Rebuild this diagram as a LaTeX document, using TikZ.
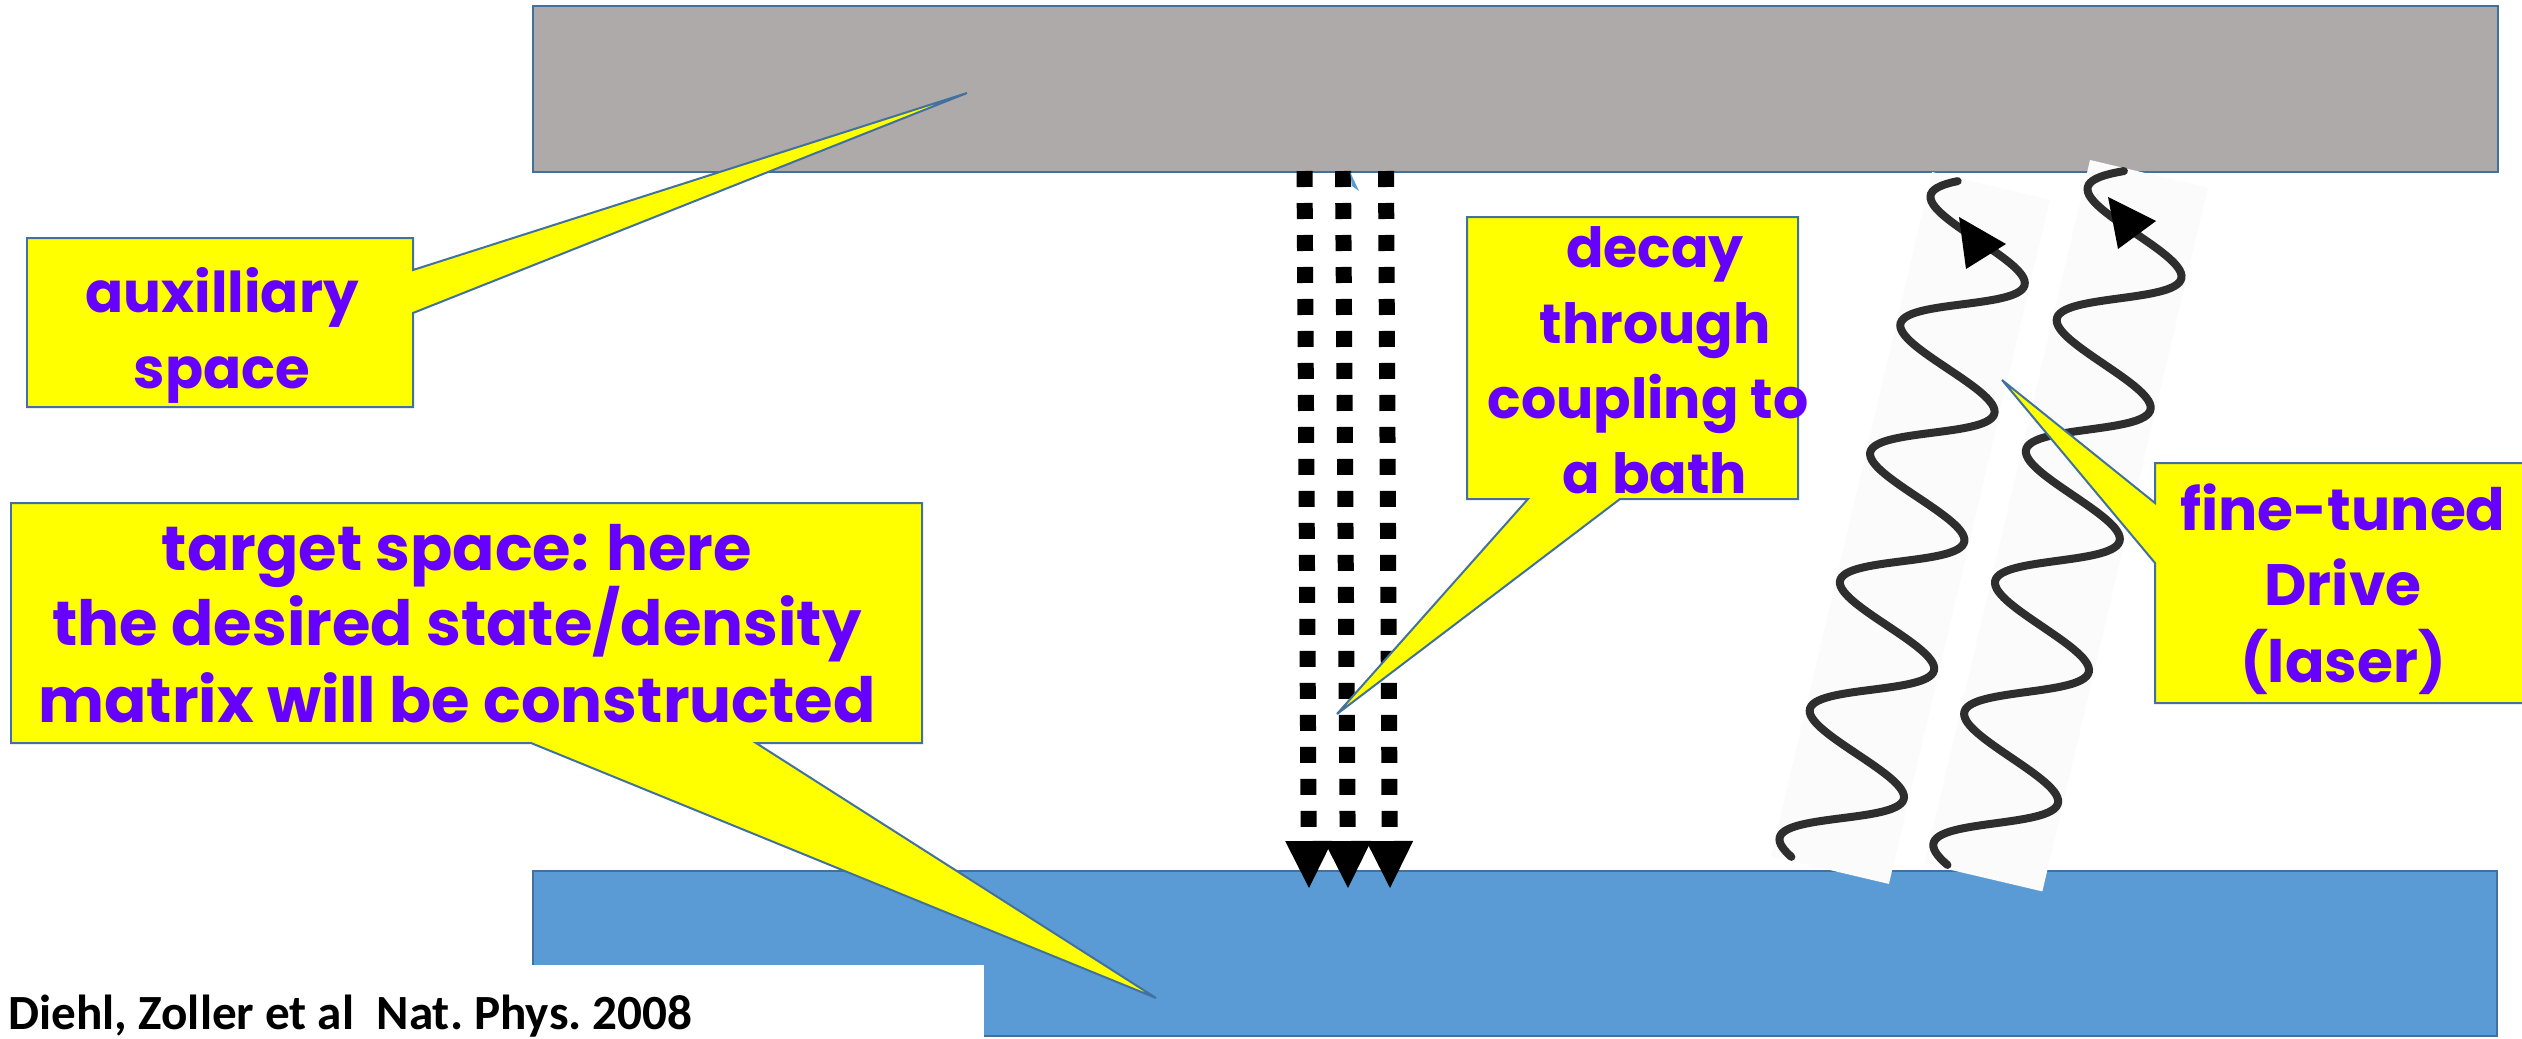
\documentclass[tikz,border=0pt]{standalone}
\usepackage{fontspec}
\usetikzlibrary{arrows.meta}
\newfontfamily\comicfont{Poppins}
\newfontfamily\citefont{Carlito}
\definecolor{auxgray}{HTML}{AEAAAA}
\definecolor{tgtblue}{HTML}{5B9BD5}
\definecolor{edgeblue}{HTML}{41719C}
\definecolor{calloutyellow}{HTML}{FFFF00}
\definecolor{textpurple}{HTML}{6600FF}
\definecolor{stripwhite}{HTML}{FBFBFB}
\definecolor{wavegray}{HTML}{2E2E2E}
\tikzset{
  spacebox/.style={draw=edgeblue, line width=0.05cm},
  callout/.style={fill=calloutyellow, draw=edgeblue, line width=0.04cm, line join=miter},
  calltext/.style={text=textpurple, anchor=base, inner sep=0pt},
  ctA/.style={calltext, font=\comicfont\bfseries\fontsize{32}{38}\selectfont},
  ctB/.style={calltext, font=\comicfont\bfseries\fontsize{35.5}{42}\selectfont},
  ctC/.style={calltext, font=\comicfont\bfseries\fontsize{31.5}{38}\selectfont},
  ctD/.style={calltext, font=\comicfont\bfseries\fontsize{33.2}{40}\selectfont},
  citetext/.style={font=\citefont\bfseries\fontsize{28}{33}\selectfont, anchor=base west, inner sep=0pt},
  dotline/.style={line width=0.32cm, dash pattern=on 0.32cm off 0.32cm, -{Triangle[width=0.94cm,length=0.94cm,line width=0pt]}},
  wave/.style={draw=wavegray, line width=0.16cm, line cap=round},
  wavetip/.style={fill=black},
}
\begin{document}
\begin{tikzpicture}[x=0.02cm, y=-0.02cm]
\useasboundingbox (0,0) rectangle (2522,1038);
\fill[white] (0,0) rectangle (2522,1038);

% auxiliary space (gray) and target space (blue)
\draw[spacebox, fill=auxgray] (533,6) rectangle (2498,172);
\draw[spacebox, fill=tgtblue] (533,871) rectangle (2497,1036);

% citation
\fill[white] (0,965) rectangle (984,1040);
\node[citetext] (cite) at (8,1029) {\frenchspacing Diehl, Zoller et al\ \ Nat. Phys. 2008};

% laser drive waves
\begin{scope}[shift={(1932,172)}]
  \begin{scope}[x={(0.019468cm,-0.004584cm)}, y={(-0.004584cm,-0.019468cm)}]
    \fill[stripwhite] (0,0) -- (121,0) -- (121,703) -- (0,703) -- cycle;
    \draw[wave] plot[variable=\t, domain=3:699, samples=300, smooth] ({60-56*cos(2.72727*(\t-22.8))}, \t);
  \end{scope}
\end{scope}
\begin{scope}[shift={(2090,160)}]
  \begin{scope}[x={(0.019468cm,-0.004584cm)}, y={(-0.004584cm,-0.019468cm)}]
    \fill[stripwhite] (0,0) -- (121,0) -- (121,723) -- (0,723) -- cycle;
    \draw[wave] plot[variable=\t, domain=3:719, samples=300, smooth] ({60-56*cos(2.67062*(\t-27))}, \t);
  \end{scope}
\end{scope}
\fill[wavetip] (1959,217) -- (2006,244) -- (1966,269) -- cycle;
\fill[wavetip] (2108,197) -- (2156,221) -- (2118,249) -- cycle;

% decay channels (dotted arrows)
\coordinate (t1) at (1304.5,171);
\coordinate (t2) at (1343,171);
\coordinate (t3) at (1386,171);
\coordinate (b1) at (1309,888);
\coordinate (b2) at (1348,888);
\coordinate (b3) at (1390,888);
\draw[dotline] (t1) -- (b1);
\draw[dotline] (t2) -- (b2);
\draw[dotline] (t3) -- (b3);
\fill[tgtblue] (1350,172) -- (1359,191) -- (1352,186) -- cycle;

% callouts
\draw[callout] (27,238) -- (413,238) -- (413,270) -- (967,93) -- (413,313) -- (413,407) -- (27,407) -- cycle;
\node[ctA] (aux1) at (222,312) {auxilliary};
\node[ctA] (aux2) at (222,388) {space};

\draw[callout] (11,503) -- (922,503) -- (922,743) -- (756,743) -- (1156,998) -- (531,743) -- (11,743) -- cycle;
\node[ctB] (tg1) at (457,570) {target space: here};
\node[ctB] (tg2) at (457,645) {the desired state/density};
\node[ctB] (tg3) at (457,722) {matrix will be constructed};

\draw[callout] (1467,217) -- (1798,217) -- (1798,499) -- (1620,499) -- (1337,714) -- (1528,499) -- (1467,499) -- cycle;
\node[ctC] (dc1) at (1655,267) {decay};
\node[ctC] (dc2) at (1655,343) {through};
\node[ctC] (dc3) at (1648,418) {coupling to};
\node[ctC] (dc4) at (1655,493) {a bath};

\draw[callout] (2155,463) -- (2540,463) -- (2540,703) -- (2155,703) -- (2155,563) -- (2002,380) -- (2155,503) -- cycle;
\node[ctD] (dr1) at (2343,530) {fine-tuned};
\node[ctD] (dr2) at (2343,605) {Drive};
\node[ctD] (dr3) at (2343,682) {(laser)};
\end{tikzpicture}
\end{document}
